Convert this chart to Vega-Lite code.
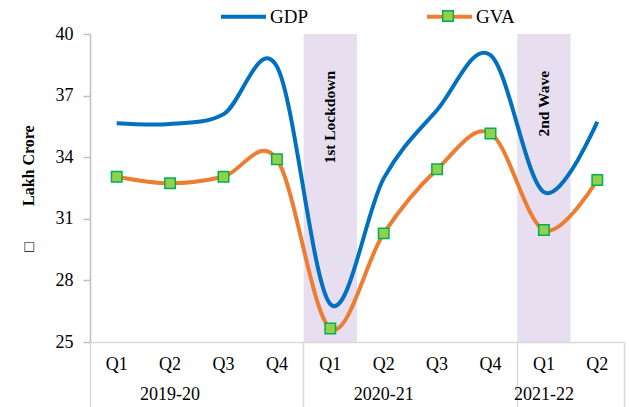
{
  "$schema": "https://vega.github.io/schema/vega-lite/v6.json",
  "width": 534,
  "height": 308,
  "autosize": {"type": "none"},
  "padding": {"left": 90, "top": 34, "right": 5, "bottom": 65},
  "config": {
    "view": {"stroke": null},
    "font": "Liberation Serif",
    "axis": {"grid": false, "labelFont": "Liberation Serif", "titleFont": "Liberation Serif", "labelColor": "#000000", "titleColor": "#000000"},
    "legend": {"labelFont": "Liberation Serif"}
  },
  "datasets": {
    "series": [
      {"period": "2019-20 Q1", "series": "GDP", "value": 35.65},
      {"period": "2019-20 Q2", "series": "GDP", "value": 35.62},
      {"period": "2019-20 Q3", "series": "GDP", "value": 36.09},
      {"period": "2019-20 Q4", "series": "GDP", "value": 38.42},
      {"period": "2020-21 Q1", "series": "GDP", "value": 26.85},
      {"period": "2020-21 Q2", "series": "GDP", "value": 32.97},
      {"period": "2020-21 Q3", "series": "GDP", "value": 36.3},
      {"period": "2020-21 Q4", "series": "GDP", "value": 38.97},
      {"period": "2021-22 Q1", "series": "GDP", "value": 32.3},
      {"period": "2021-22 Q2", "series": "GDP", "value": 35.73},
      {"period": "2019-20 Q1", "series": "GVA", "value": 33.05},
      {"period": "2019-20 Q2", "series": "GVA", "value": 32.73},
      {"period": "2019-20 Q3", "series": "GVA", "value": 33.05},
      {"period": "2019-20 Q4", "series": "GVA", "value": 33.9},
      {"period": "2020-21 Q1", "series": "GVA", "value": 25.66},
      {"period": "2020-21 Q2", "series": "GVA", "value": 30.29},
      {"period": "2020-21 Q3", "series": "GVA", "value": 33.41},
      {"period": "2020-21 Q4", "series": "GVA", "value": 35.16},
      {"period": "2021-22 Q1", "series": "GVA", "value": 30.45},
      {"period": "2021-22 Q2", "series": "GVA", "value": 32.89}
    ],
    "bands": [
      {"period": "2020-21 Q1", "label": "1st Lockdown"},
      {"period": "2021-22 Q1", "label": "2nd Wave"}
    ]
  },
  "layer": [
    {
      "encoding": {
        "x": {
          "field": "period",
          "type": "nominal",
          "sort": null,
          "scale": {
            "type": "band",
            "domain": ["2019-20 Q1", "2019-20 Q2", "2019-20 Q3", "2019-20 Q4", "2020-21 Q1", "2020-21 Q2", "2020-21 Q3", "2020-21 Q4", "2021-22 Q1", "2021-22 Q2"],
            "paddingInner": 0,
            "paddingOuter": 0
          },
          "axis": {
            "orient": "bottom",
            "title": null,
            "ticks": false,
            "tickSize": 0,
            "domain": true,
            "domainColor": "#d9d9d9",
            "domainWidth": 1.5,
            "labelAngle": 0,
            "labelFontSize": 18,
            "labelPadding": 13,
            "labelExpr": "split(datum.label, ' ')[1]"
          }
        }
      },
      "layer": [
        {
          "data": {"name": "bands"},
          "mark": {"type": "rect", "color": "#e7dff0", "opacity": 1},
          "encoding": {
            "y": {"datum": 40, "type": "quantitative"},
            "y2": {"datum": 25}
          }
        },
        {
          "data": {"name": "bands"},
          "mark": {"type": "text", "angle": 270, "align": "right", "baseline": "middle", "fontSize": 15.5, "fontWeight": "bold", "font": "Liberation Serif", "color": "#000000"},
          "encoding": {
            "y": {"datum": 38.2, "type": "quantitative"},
            "text": {"field": "label"}
          }
        },
        {
          "data": {"name": "series"},
          "mark": {"type": "line", "interpolate": "cardinal", "tension": 0, "strokeWidth": 4},
          "encoding": {
            "y": {
              "field": "value",
              "type": "quantitative",
              "scale": {"domain": [25, 40], "nice": false, "zero": false},
              "axis": {
                "values": [25, 28, 31, 34, 37, 40],
                "domainColor": "#bfbfbf",
                "domainWidth": 1.5,
                "tickColor": "#bfbfbf",
                "tickWidth": 1.5,
                "tickSize": 7,
                "labelFontSize": 18,
                "labelPadding": 10,
                "title": "□\u00a0\u00a0\u00a0\u00a0\u00a0\u00a0\u00a0\u00a0 Lakh Crore",
                "titleFontSize": 16,
                "titleFontWeight": "bold",
                "titlePadding": 19
              }
            },
            "color": {
              "field": "series",
              "type": "nominal",
              "scale": {"domain": ["GDP", "GVA"], "range": ["#0070c0", "#ed7d31"]},
              "legend": {
                "orient": "none",
                "direction": "horizontal",
                "title": null,
                "legendX": 129,
                "legendY": -42,
                "padding": 0,
                "symbolType": "stroke",
                "symbolSize": 2025,
                "symbolStrokeWidth": 4,
                "labelFontSize": 19,
                "labelColor": "#000000",
                "labelOffset": 2,
                "columnPadding": 110
              }
            }
          }
        },
        {
          "data": {"name": "series"},
          "transform": [{"filter": "datum.series === 'GVA'"}],
          "mark": {"type": "point", "shape": "square", "size": 110, "filled": true, "stroke": "#00b050", "strokeWidth": 1.5, "opacity": 1},
          "encoding": {
            "y": {"field": "value", "type": "quantitative"},
            "fill": {
              "field": "series",
              "type": "nominal",
              "scale": {"domain": ["GVA"], "range": ["#92d050"]},
              "legend": {
                "orient": "none",
                "title": null,
                "legendX": 349,
                "legendY": -27,
                "padding": 0,
                "zindex": 2,
                "symbolType": "square",
                "symbolSize": 110,
                "symbolStrokeColor": "#00b050",
                "symbolStrokeWidth": 1.5,
                "labelFontSize": 18,
                "labelExpr": "''"
              }
            }
          }
        }
      ]
    },
    {
      "data": {"name": "bands"},
      "mark": {"type": "point", "opacity": 0},
      "encoding": {
        "x": {
          "field": "period",
          "type": "nominal",
          "sort": null,
          "scale": {
            "type": "band",
            "domain": ["2019-20 Q1", "2019-20 Q2", "2019-20 Q3", "2019-20 Q4", "2020-21 Q1", "2020-21 Q2", "2020-21 Q3", "2020-21 Q4", "2021-22 Q1", "2021-22 Q2"],
            "paddingInner": 0,
            "paddingOuter": 0
          },
          "axis": {
            "orient": "bottom",
            "title": null,
            "values": ["2019-20 Q1", "2020-21 Q1", "2021-22 Q1"],
            "bandPosition": 0,
            "labels": false,
            "domain": false,
            "ticks": true,
            "tickSize": 65,
            "tickColor": "#d9d9d9",
            "tickWidth": 1.5
          }
        }
      }
    },
    {
      "data": {"name": "bands"},
      "mark": {"type": "point", "opacity": 0},
      "encoding": {
        "x": {
          "field": "period",
          "type": "nominal",
          "sort": null,
          "scale": {
            "type": "band",
            "domain": ["2019-20 Q1", "2019-20 Q2", "2019-20 Q3", "2019-20 Q4", "2020-21 Q1", "2020-21 Q2", "2020-21 Q3", "2020-21 Q4", "2021-22 Q1", "2021-22 Q2"],
            "paddingInner": 0,
            "paddingOuter": 0
          },
          "axis": {
            "orient": "bottom",
            "title": null,
            "values": ["2021-22 Q2"],
            "bandPosition": 1,
            "labels": false,
            "domain": false,
            "ticks": true,
            "tickSize": 65,
            "tickColor": "#d9d9d9",
            "tickWidth": 1.5
          }
        }
      }
    },
    {
      "data": {"name": "bands"},
      "mark": {"type": "point", "opacity": 0},
      "encoding": {
        "x": {
          "field": "period",
          "type": "nominal",
          "sort": null,
          "scale": {
            "type": "band",
            "domain": ["2019-20 Q1", "2019-20 Q2", "2019-20 Q3", "2019-20 Q4", "2020-21 Q1", "2020-21 Q2", "2020-21 Q3", "2020-21 Q4", "2021-22 Q1", "2021-22 Q2"],
            "paddingInner": 0,
            "paddingOuter": 0
          },
          "axis": {
            "orient": "bottom",
            "title": null,
            "values": ["2019-20 Q2", "2020-21 Q2", "2021-22 Q1"],
            "bandPosition": 1,
            "labels": true,
            "labelAngle": 0,
            "labelFontSize": 18,
            "labelPadding": 12,
            "labelExpr": "split(datum.label, ' ')[0]",
            "domain": false,
            "ticks": false,
            "tickSize": 0,
            "offset": 31
          }
        }
      }
    }
  ],
  "resolve": {"scale": {"x": "independent"}}
}
